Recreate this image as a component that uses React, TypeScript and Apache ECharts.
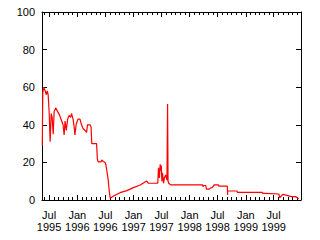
import React, { useEffect, useRef } from "react";
import * as echarts from "echarts";

const dates = [
  "1995-05-18","1995-05-21","1995-05-27","1995-06-06","1995-06-12","1995-06-19","1995-06-25",
  "1995-07-02","1995-07-08","1995-07-15","1995-07-21","1995-07-28","1995-08-03","1995-08-13","1995-08-26",
  "1995-09-08","1995-09-21","1995-09-30","1995-10-07","1995-10-13","1995-10-21","1995-10-30",
  "1995-11-08","1995-11-18","1995-11-24","1995-12-04","1995-12-11","1995-12-16","1995-12-24",
  "1996-01-05","1996-01-18","1996-01-28","1996-02-07","1996-02-20","1996-03-01","1996-03-07","1996-03-23","1996-03-30",
  "1996-04-04","1996-05-05","1996-05-10","1996-05-15","1996-06-03","1996-06-08","1996-06-18","1996-06-29",
  "1996-07-05","1996-07-12","1996-07-20","1996-07-27","1996-08-02","1996-08-23","1996-10-05","1996-11-18","1996-12-31",
  "1997-02-13","1997-03-27","1997-04-08","1997-06-07","1997-06-12","1997-06-15","1997-06-18","1997-06-23","1997-06-26","1997-06-30",
  "1997-07-04","1997-07-08","1997-07-15","1997-07-21","1997-07-28","1997-08-06","1997-08-10","1997-08-13","1997-08-17","1997-09-01",
  "1998-03-26","1998-03-29","1998-04-03","1998-04-16","1998-04-19","1998-05-09","1998-05-19","1998-05-28","1998-06-09",
  "1998-07-06","1998-07-09","1998-08-31","1998-09-03","1998-09-04","1998-09-05","1998-11-05","1998-11-07",
  "1999-04-18","1999-04-22","1999-05-09","1999-05-11","1999-08-04","1999-08-09","1999-08-26","1999-09-03","1999-09-13",
  "1999-10-02","1999-10-22","1999-11-20","1999-11-30","1999-12-11",
];

const values = [
  29, 57, 60, 58, 56, 58, 56,
  46, 31, 46, 44, 35, 47, 49, 47,
  45, 42, 40, 34.6, 42, 37, 43,
  45, 44, 46, 43, 39, 34.6, 40,
  43, 43, 40, 38, 37, 36, 40, 40, 39,
  30, 30, 22, 20.3, 20.3, 21.3, 20.5, 20,
  18.6, 15, 10.6, 4.4, 0.9, 2.1, 3.9, 5.0, 6.6,
  8, 10.1, 8.9, 8.9, 17.2, 14.3, 11.7, 19, 15.6, 18.3,
  9.8, 14.5, 8.9, 12, 13.3, 10.6, 51, 10.1, 8.9, 8,
  8, 7.1, 7.7, 7.7, 5.8, 5.8, 6.5, 6.6, 8,
  8, 7.4, 7.4, 7.1, 2.7, 4.8, 4.8, 4.1,
  4.1, 3.5, 3.5, 3.2, 3.2, 1.2, 2.7, 3.0, 2.7,
  2.3, 1.8, 1.8, 1.3, 0.5,
];

const majorTickDates = [
  "1995-07-01","1996-01-01","1996-07-01","1997-01-01","1997-07-01",
  "1998-01-01","1998-07-01","1999-01-01","1999-07-01",
];
const majorTickLabels = [
  "Jul\n1995","Jan\n1996","Jul\n1996","Jan\n1997","Jul\n1997",
  "Jan\n1998","Jul\n1998","Jan\n1999","Jul\n1999",
];

const xMinDate = "1995-05-16";
const xMaxDate = "1999-12-26";

const toTs = (s: string) => {
  const [y, m, d] = s.split("-").map(Number);
  return Date.UTC(y, m - 1, d);
};

const DAY = 86400000;

export default function App() {
  const ref = useRef<HTMLDivElement>(null);
  useEffect(() => {
    if (!ref.current) return;
    const chart = echarts.init(ref.current, null, { renderer: "svg" });
    const t0 = toTs(xMinDate);
    const toDay = (s: string) => (toTs(s) - t0) / DAY;
    const xMax = toDay(xMaxDate);
    const minorTicks: number[] = [];
    for (let y = 1995; y <= 1999; y++) {
      for (let m = 0; m < 12; m++) {
        const t = (Date.UTC(y, m, 1) - t0) / DAY;
        if (t >= 0 && t <= xMax) minorTicks.push(t);
      }
    }
    const majorTicks = majorTickDates.map(toDay);
    const labelMap: Record<string, string> = {};
    majorTicks.forEach((t, i) => (labelMap[String(t)] = majorTickLabels[i]));

    const font = "Liberation Sans";
    const black = "#000";
    const baseX = (pos: "top" | "bottom", ticks: number[], len: number, showLine: boolean, showLabel: boolean) => ({
      type: "value",
      position: pos,
      min: 0,
      max: xMax,
      axisLine: { show: showLine, onZero: false, lineStyle: { color: black, width: 1 } },
      axisTick: { show: true, inside: true, length: len, customValues: ticks, lineStyle: { color: black, width: 1 } },
      axisLabel: showLabel
        ? {
            show: true,
            customValues: majorTicks,
            formatter: (v: number) => labelMap[String(v)] ?? "",
            color: black,
            fontFamily: font,
            fontSize: 11,
            lineHeight: 12,
            margin: 9,
          }
        : { show: false },
      splitLine: { show: false },
    });

    const baseY = (pos: "left" | "right", showLabel: boolean) => ({
      type: "value",
      position: pos,
      min: 0,
      max: 100,
      interval: 20,
      axisLine: { show: true, onZero: false, lineStyle: { color: black, width: 1 } },
      axisTick: { show: true, inside: true, length: 5, lineStyle: { color: black, width: 1 } },
      axisLabel: showLabel
        ? { show: true, color: black, fontFamily: font, fontSize: 11, margin: 7 }
        : { show: false },
      splitLine: { show: false },
    });

    chart.setOption({
      animation: false,
      backgroundColor: "#fff",
      grid: { left: 42, right: 19, top: 12, bottom: 40, containLabel: false },
      xAxis: [
        baseX("bottom", minorTicks, 3, true, false),
        baseX("bottom", majorTicks, 5, false, true),
        baseX("top", minorTicks, 3, true, false),
        baseX("top", majorTicks, 5, false, false),
      ],
      yAxis: [baseY("left", true), baseY("right", false)],
      series: [
        {
          type: "line",
          xAxisIndex: 0,
          yAxisIndex: 0,
          showSymbol: false,
          symbol: "none",
          lineStyle: { color: "#ff0000", width: 1.2 },
          data: dates.map((d, i) => [toDay(d), values[i]]),
        },
      ],
    });
    return () => chart.dispose();
  }, []);
  return (
    <div
      ref={ref}
      style={{ width: 320, height: 240, position: "absolute", left: 0, top: 0, background: "#fff" }}
    />
  );
}
